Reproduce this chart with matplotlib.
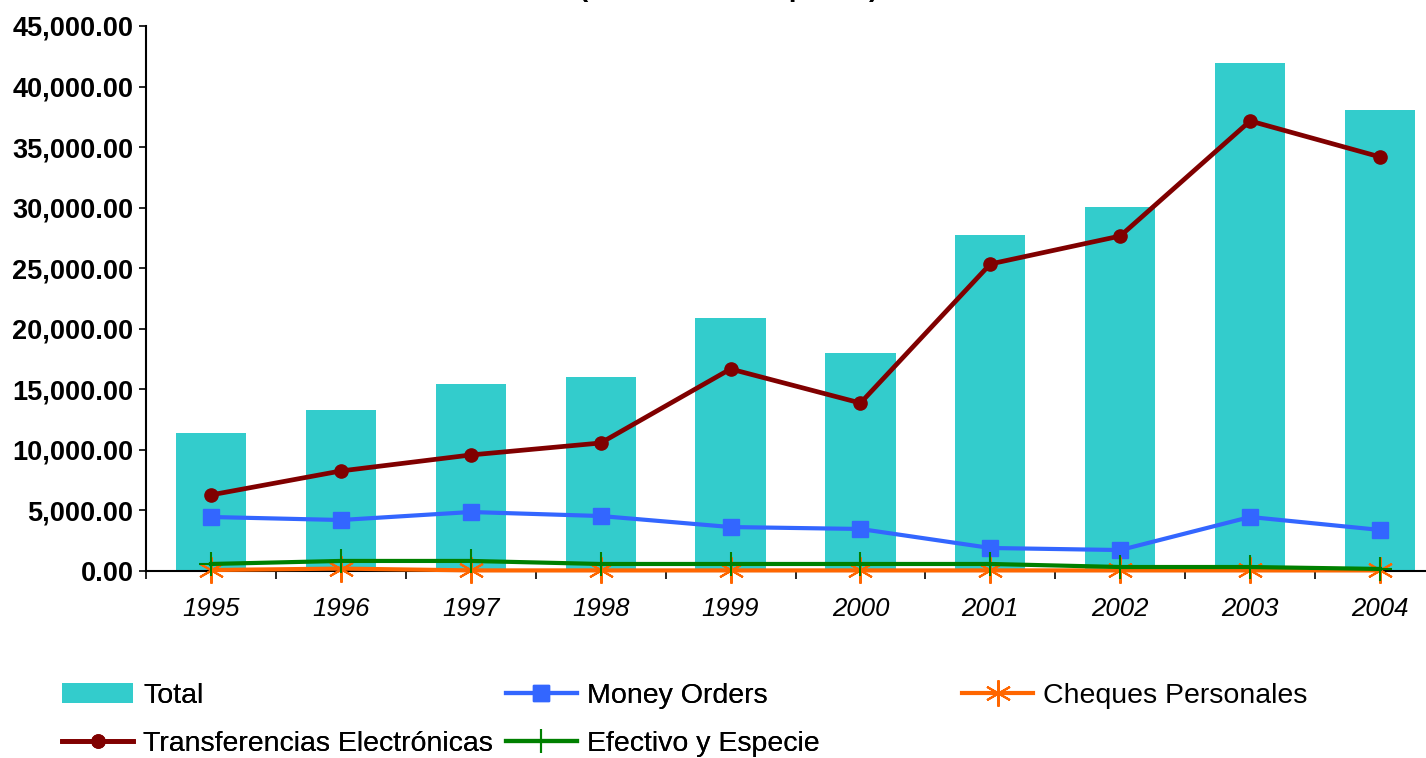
import matplotlib
matplotlib.use('Agg')
import matplotlib.pyplot as plt
import numpy as np
from matplotlib.ticker import FuncFormatter

plt.rcParams['font.family'] = ['Liberation Sans', 'DejaVu Sans']

# remesas por tipo de envio
years = ['1995', '1996', '1997', '1998', '1999', '2000', '2001', '2002', '2003', '2004']
total = [11400, 13300, 15450, 16050, 20900, 18000, 27750, 30050, 41950, 38050]
transferencias = [6280, 8260, 9580, 10570, 16680, 13870, 25350, 27660, 37160, 34190]
money_orders = [4460, 4210, 4870, 4540, 3630, 3470, 1900, 1730, 4460, 3390]
efectivo = [580, 830, 830, 580, 580, 580, 580, 330, 330, 170]
cheques = [80, 200, 50, 50, 50, 50, 50, 50, 50, 50]

fig = plt.figure(figsize=(14.26, 7.58), dpi=100)
ax = fig.add_axes([146/1426, 187/758, 1299/1426, 545/758])

x = np.arange(len(years))
ax.bar(x, total, width=0.54, color='#33CCCC', label='Total', zorder=2)
ax.plot(x, transferencias, color='#800000', lw=3.4, marker='o', ms=9.5,
        label='Transferencias Electrónicas', zorder=3)
ax.plot(x, money_orders, color='#3366FF', lw=3.0, marker='s', ms=12,
        label='Money Orders', zorder=3)
ax.plot(x, cheques, color='#FF6600', lw=3.0, marker=(6, 2, 0), ms=19, mew=1.5,
        label='Cheques Personales', zorder=4, clip_on=False)
ax.plot(x, efectivo, color='#008000', lw=3.0, marker='+', ms=17, mew=1.5,
        label='Efectivo y Especie', zorder=5, clip_on=False)

ax.set_xlim(-0.5, 9.5)
ax.set_ylim(0, 45000)
ax.set_yticks(np.arange(0, 45001, 5000))
ax.yaxis.set_major_formatter(FuncFormatter(lambda v, p: f'{v:,.2f}'))
ax.tick_params(axis='y', direction='out', length=5, width=1.2, pad=4,
               labelsize=19.5, colors='black')
for lbl in ax.get_yticklabels():
    lbl.set_fontweight('bold')

ax.set_xticks(x)
ax.set_xticklabels(years, fontsize=18.5, style='italic')
ax.tick_params(axis='x', which='major', length=0, pad=19)
ax.set_xticks(np.arange(-0.5, 10, 1), minor=True)
ax.tick_params(axis='x', which='minor', direction='out', length=6, width=1.2)

for s in ['top', 'right']:
    ax.spines[s].set_visible(False)
for s in ['left', 'bottom']:
    ax.spines[s].set_linewidth(1.5)

# title sits mostly above the picture, only descenders show
fig.text(0.511, 1.0055, '(en millones de pesos)', ha='center', va='baseline',
         fontsize=20, fontweight='bold')

h, l = ax.get_legend_handles_labels()
d = dict(zip(l, h))
order = ['Total', 'Transferencias Electrónicas', 'Money Orders', 'Efectivo y Especie']
leg1 = fig.legend([d[k] for k in order], order, ncol=2, loc='upper left',
                  bbox_to_anchor=(62/1426, 0.099), frameon=False, fontsize=20.5,
                  borderpad=0, borderaxespad=0, handlelength=2.5, handletextpad=0.35,
                  columnspacing=0.45, labelspacing=0.76)
leg2 = fig.legend([d['Cheques Personales']], ['Cheques Personales'], loc='upper left',
                  bbox_to_anchor=(962/1426, 0.099), frameon=False, fontsize=20.5,
                  borderpad=0, borderaxespad=0, handlelength=2.5, handletextpad=0.35)
fig.add_artist(leg1)

fig.savefig('out.png', dpi=100)
